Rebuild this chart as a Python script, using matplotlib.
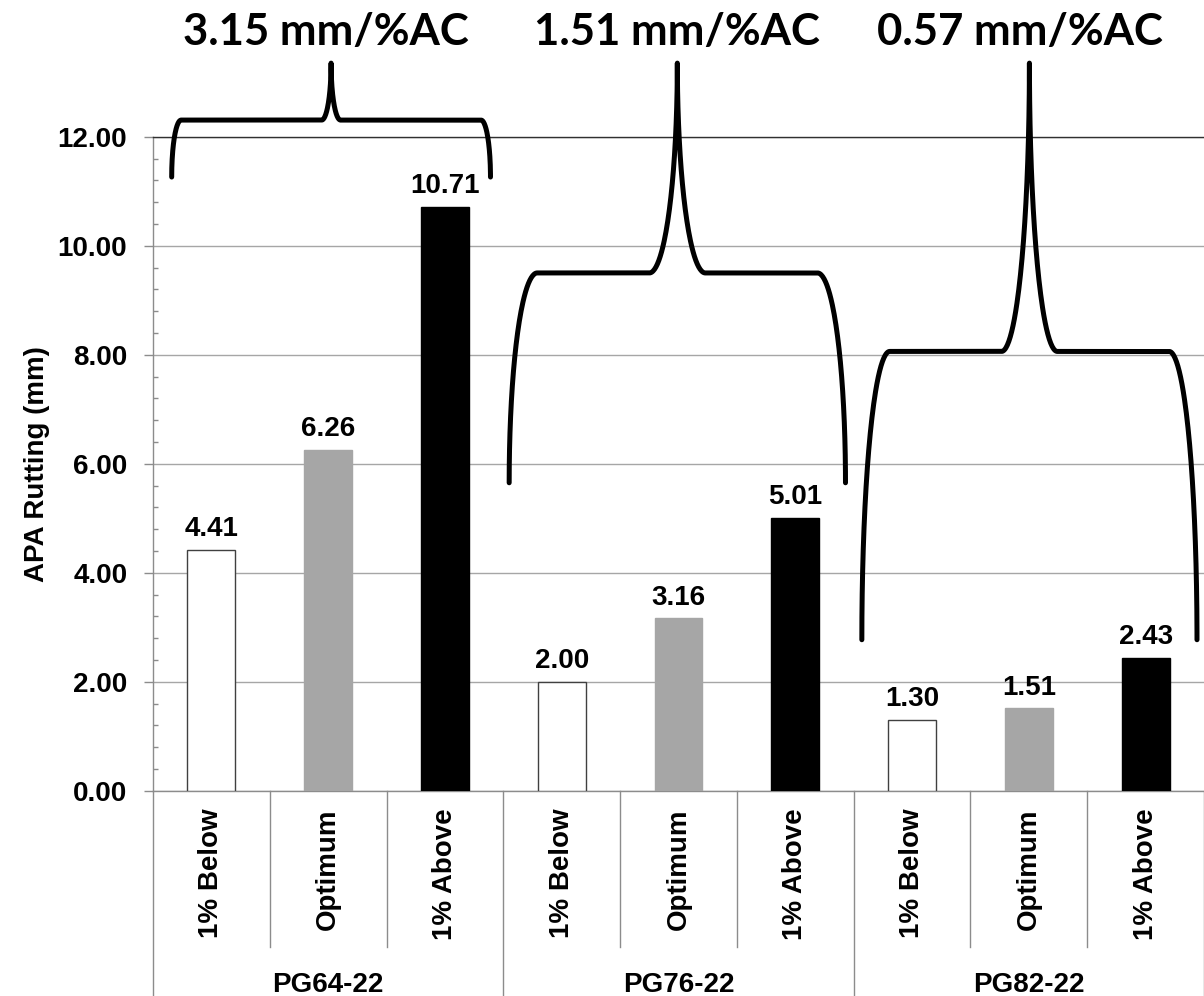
import matplotlib
matplotlib.use("Agg")
import matplotlib.pyplot as plt
import numpy as np
from matplotlib.ticker import MultipleLocator, FormatStrFormatter
from matplotlib.transforms import blended_transform_factory, IdentityTransform

# ---- data ----
binders = ["PG64-22", "PG76-22", "PG82-22"]
levels = ["1% Below", "Optimum", "1% Above"]
rutting = [4.41, 6.26, 10.71,
           2.00, 3.16, 5.01,
           1.30, 1.51, 2.43]
slope_labels = ["3.15 mm/%AC", "1.51 mm/%AC", "0.57 mm/%AC"]
level_colors = ["white", "#a6a6a6", "black"]

# brace geometry (data units): left x, right x, end height
brace_left = [-0.34, 2.55, 5.57]
brace_right = [2.39, 5.43, 8.44]
brace_ends = [11.26, 5.65, 2.77]
brace_peak = 13.35
slope_text_x = [0.98, 3.99, 6.92]
slope_text_y = 13.92

plt.rcParams["font.family"] = ["Liberation Sans", "DejaVu Sans"]
plt.rcParams["font.weight"] = "bold"

W, H = 1204, 996
fig = plt.figure(figsize=(W / 100, H / 100), dpi=100)
ax_left, ax_right, ax_top, ax_bot = 153, 1204, 136.7, 790.7
ax = fig.add_axes([ax_left / W, 1 - ax_bot / H,
                   (ax_right - ax_left) / W, (ax_bot - ax_top) / H])

x = np.arange(len(rutting))
colors = [level_colors[i % 3] for i in range(len(rutting))]
edges = ["#404040" if c == "white" else c for c in colors]
ax.bar(x, rutting, width=0.41, color=colors, edgecolor=edges,
       linewidth=1.0, zorder=3)

ax.set_xlim(-0.5, len(rutting) - 0.5)
ax.set_ylim(0, 12)
ax.yaxis.set_major_locator(MultipleLocator(2))
ax.yaxis.set_minor_locator(MultipleLocator(0.4))
ax.yaxis.set_major_formatter(FormatStrFormatter("%.2f"))
ax.yaxis.grid(True, which="major", color="#a6a6a6", linewidth=1.0, zorder=0)
ax.set_axisbelow(True)
ax.set_xticks([])

axis_grey = "#8c8c8c"
for side in ("left", "bottom"):
    ax.spines[side].set_color(axis_grey)
    ax.spines[side].set_linewidth(1.0)
ax.spines["right"].set_visible(False)
ax.spines["top"].set_color("#303030")
ax.spines["top"].set_linewidth(1.0)

ax.tick_params(axis="y", which="major", direction="out", length=6.5,
               width=1, color=axis_grey, pad=12, labelsize=20)
ax.tick_params(axis="y", which="minor", direction="in", length=3.6,
               width=1, color=axis_grey)
for lab in ax.get_yticklabels():
    lab.set_fontweight("bold")

ax.set_ylabel("APA Rutting (mm)", fontsize=20, fontweight="bold")
ax.yaxis.set_label_coords(-0.098, 0.5)

# value labels
for xi, v in zip(x, rutting):
    ax.annotate(f"{v:.2f}", (xi, v), xytext=(0, 10), textcoords="offset points",
                ha="center", va="baseline", fontsize=20, fontweight="bold")

# two-level category axis
blend = blended_transform_factory(ax.transData, ax.transAxes)
for xi in x:
    ax.text(xi, -0.0265, levels[xi % 3], transform=blend, rotation=90,
            ha="center", va="top", fontsize=20, fontweight="bold")
for k in range(len(rutting) + 1):
    xk = k - 0.5
    y_end = -0.32 if k % 3 == 0 else -0.239
    ax.plot([xk, xk], [0, y_end], transform=blend, color=axis_grey,
            linewidth=1.0, clip_on=False)
for g, name in enumerate(binders):
    ax.text(3 * g + 1, -0.308, name, transform=blend, ha="center",
            va="baseline", fontsize=20, fontweight="bold")


def brace(x0, x1, y_end, y_top):
    """Curly brace opening downward, built from quarter-ellipse arcs."""
    (X0, Yb), (X1, Yt) = ax.transData.transform([(x0, y_end), (x1, y_top)])
    w, h = X1 - X0, Yt - Yb
    rx = 0.08333 * min(w, h)
    ry = h / 2.0
    Xm = (X0 + X1) / 2.0
    n = 60
    pts = []

    def arc(cx, cy, a0, a1):
        t = np.radians(np.linspace(a0, a1, n))
        return list(zip(cx + rx * np.cos(t), cy + ry * np.sin(t)))

    pts += arc(X0 + rx, Yb, 180, 90)
    pts += arc(Xm - rx, Yt, 270, 360)
    pts += arc(Xm + rx, Yt, 180, 270)
    pts += arc(X1 - rx, Yb, 90, 0)
    px, py = zip(*pts)
    line = plt.Line2D(px, py, transform=IdentityTransform(), color="black",
                      linewidth=3.6, solid_capstyle="round",
                      solid_joinstyle="round", clip_on=False, zorder=5)
    fig.add_artist(line)


for x0, x1, ye in zip(brace_left, brace_right, brace_ends):
    brace(x0, x1, ye, brace_peak)

for tx, label in zip(slope_text_x, slope_labels):
    ax.text(tx, slope_text_y, label, ha="center", va="center", fontsize=31.5,
            family=["Lato", "DejaVu Sans"], fontweight="bold", clip_on=False)

fig.savefig("out.png", dpi=100)
